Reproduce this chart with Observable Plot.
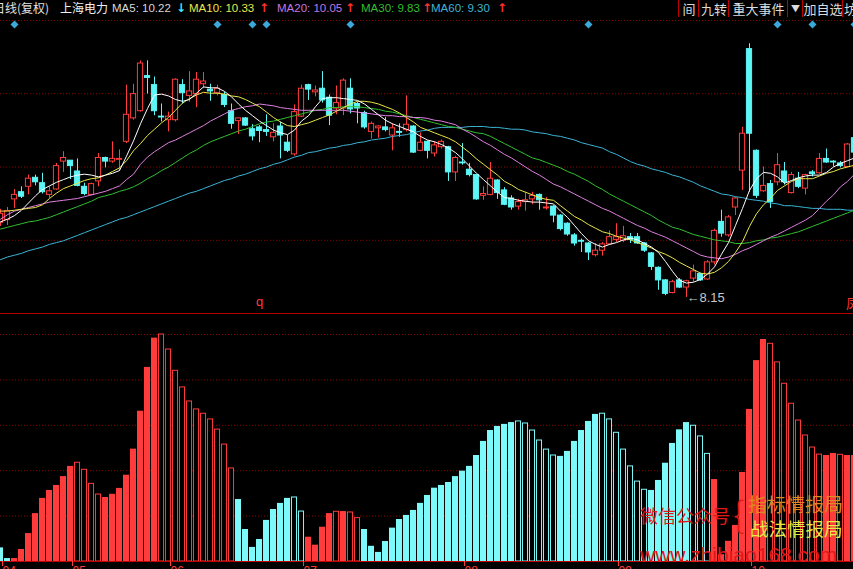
<!DOCTYPE html>
<html>
<head>
<meta charset="utf-8">
<script src="https://cdn.jsdelivr.net/npm/d3@7"></script>
<script src="https://cdn.jsdelivr.net/npm/@observablehq/plot@0.6"></script>
<style>
html, body { margin:0; padding:0; background:#000; }
#root { position:relative; width:853px; height:569px; overflow:hidden; background:#000; font-family:"Liberation Sans", Arial, "Noto Sans CJK SC", sans-serif; }
#main, #sub { position:absolute; left:0; }
#main { top:0; }
#sub { top:313px; }
.btn { position:absolute; top:0; height:17px; line-height:17px; font-size:13px; color:#dcdcdc; text-align:center; border-left:1px solid #c00000; font-family:"Noto Sans CJK SC", sans-serif; }
</style>
</head>
<body>
<div id="root">
  <div id="main"></div>
  <div id="sub"></div>
  <div id="header"></div>
  <div id="marks"></div>
</div>
<script>
// ---------------- data ----------------
const opens = [8.98,9.01,9.24,9.32,9.38,9.48,9.42,9.29,9.35,9.66,9.67,9.55,9.38,9.29,9.44,9.70,9.66,9.68,9.88,10.14,10.22,10.61,10.51,10.16,10.12,10.12,10.51,10.39,10.41,10.52,10.46,10.42,10.40,10.22,10.11,10.14,10.02,10.04,10.01,9.93,10.05,9.87,9.74,10.16,10.51,10.43,10.47,10.37,10.25,10.25,10.47,10.30,10.20,9.99,10.03,10.04,9.95,9.99,10.01,10.05,9.78,9.88,9.75,9.82,9.82,9.54,9.65,9.57,9.51,9.28,9.29,9.45,9.34,9.25,9.16,9.21,9.24,9.29,9.14,9.16,9.06,8.97,8.84,8.78,8.75,8.62,8.67,8.74,8.79,8.78,8.82,8.82,8.75,8.64,8.48,8.34,8.20,8.34,8.26,8.36,8.41,8.35,8.54,8.99,8.84,9.15,9.56,10.91,9.78,9.33,9.41,9.43,9.55,9.31,9.47,9.36,9.54,9.53,9.69,9.66,9.64,9.60,9.92];
const highs = [9.13,9.15,9.35,9.38,9.51,9.51,9.53,9.38,9.64,9.77,9.67,9.69,9.42,9.42,9.75,9.71,9.88,9.79,10.51,10.52,10.78,10.78,10.60,10.30,10.21,10.58,10.57,10.66,10.65,10.65,10.52,10.51,10.43,10.30,10.14,10.15,10.07,10.06,10.18,10.08,10.10,9.95,10.29,10.51,10.52,10.50,10.66,10.40,10.50,10.58,10.58,10.32,10.22,10.10,10.06,10.15,10.08,10.08,10.39,10.06,9.98,9.89,9.88,9.90,9.83,9.72,9.86,9.64,9.52,9.38,9.65,9.46,9.37,9.28,9.24,9.32,9.32,9.30,9.26,9.17,9.07,8.98,8.86,8.80,8.76,8.75,8.76,8.89,8.97,8.94,8.86,8.86,8.76,8.65,8.49,8.35,8.34,8.36,8.34,8.51,8.42,8.56,8.91,9.12,9.06,9.26,10.04,10.97,9.79,9.60,9.45,9.75,9.65,9.54,9.54,9.52,9.56,9.75,9.80,9.67,9.66,9.86,9.95];
const lows = [8.94,8.95,9.14,9.25,9.29,9.39,9.30,9.25,9.34,9.54,9.46,9.38,9.28,9.28,9.38,9.59,9.64,9.55,9.86,10.12,10.21,10.41,10.17,10.10,9.99,10.10,10.30,10.32,10.26,10.47,10.33,10.39,10.26,10.02,9.96,10.05,9.89,9.87,9.94,9.88,9.69,9.76,9.72,10.15,10.34,10.38,10.31,10.06,10.18,10.17,10.19,10.08,10.02,9.91,9.92,9.99,9.78,9.93,9.99,9.75,9.77,9.69,9.71,9.80,9.44,9.44,9.62,9.49,9.23,9.23,9.28,9.24,9.17,9.12,9.12,9.11,9.18,9.12,9.12,8.98,8.89,8.83,8.72,8.65,8.56,8.60,8.61,8.73,8.76,8.76,8.75,8.74,8.65,8.45,8.23,8.17,8.19,8.25,8.15,8.32,8.33,8.34,8.51,8.82,8.82,9.06,9.34,9.32,9.25,9.32,9.14,9.39,9.40,9.30,9.36,9.29,9.49,9.52,9.64,9.60,9.59,9.59,9.73];
const closes = [9.08,9.11,9.29,9.27,9.47,9.43,9.32,9.33,9.61,9.70,9.61,9.39,9.30,9.41,9.70,9.66,9.69,9.69,10.18,10.41,10.75,10.59,10.22,10.15,10.16,10.57,10.42,10.44,10.57,10.55,10.44,10.47,10.29,10.08,10.14,10.06,9.94,10.00,9.99,9.98,9.95,9.78,10.21,10.47,10.46,10.45,10.34,10.17,10.31,10.56,10.24,10.25,10.04,10.08,10.05,10.01,10.03,9.98,10.07,9.76,9.87,9.78,9.84,9.88,9.54,9.70,9.64,9.51,9.24,9.30,9.47,9.31,9.18,9.15,9.21,9.23,9.28,9.23,9.15,9.06,8.91,8.85,8.75,8.77,8.65,8.67,8.74,8.82,8.82,8.83,8.79,8.75,8.67,8.49,8.34,8.19,8.32,8.26,8.33,8.44,8.34,8.54,8.89,8.86,9.04,9.25,9.97,9.97,9.28,9.39,9.21,9.62,9.43,9.51,9.38,9.51,9.52,9.69,9.65,9.65,9.61,9.85,9.76];

const ma5 = [8.99,9.02,9.06,9.12,9.20,9.28,9.35,9.39,9.43,9.46,9.49,9.51,9.52,9.51,9.49,9.51,9.53,9.56,9.72,9.89,10.08,10.25,10.40,10.41,10.39,10.35,10.33,10.35,10.42,10.49,10.48,10.48,10.44,10.38,10.30,10.23,10.17,10.11,10.06,10.01,9.98,9.96,10.01,10.11,10.17,10.27,10.36,10.37,10.37,10.36,10.35,10.34,10.30,10.24,10.18,10.12,10.08,10.05,10.02,9.99,9.94,9.90,9.88,9.85,9.81,9.76,9.69,9.61,9.53,9.46,9.39,9.32,9.26,9.25,9.23,9.22,9.21,9.21,9.20,9.19,9.11,9.04,8.95,8.86,8.78,8.74,8.71,8.74,8.76,8.79,8.81,8.79,8.75,8.71,8.65,8.55,8.44,8.34,8.31,8.32,8.35,8.41,8.49,8.63,8.76,8.95,9.14,9.34,9.47,9.54,9.53,9.49,9.42,9.45,9.48,9.50,9.51,9.51,9.54,9.60,9.64,9.67,9.70];
const ma10 = [9.11,9.11,9.12,9.13,9.14,9.15,9.18,9.25,9.31,9.36,9.39,9.42,9.45,9.47,9.48,9.51,9.55,9.59,9.67,9.78,9.86,9.95,10.02,10.09,10.15,10.23,10.31,10.36,10.40,10.43,10.42,10.42,10.41,10.39,10.38,10.35,10.31,10.27,10.21,10.15,10.10,10.06,10.05,10.07,10.09,10.12,10.15,10.18,10.22,10.26,10.30,10.33,10.33,10.32,10.30,10.27,10.24,10.20,10.15,10.10,10.04,10.01,9.98,9.95,9.92,9.88,9.82,9.76,9.69,9.63,9.57,9.51,9.44,9.40,9.35,9.32,9.29,9.26,9.24,9.23,9.17,9.11,9.05,9.01,8.96,8.92,8.88,8.86,8.83,8.81,8.79,8.76,8.73,8.70,8.66,8.63,8.59,8.54,8.50,8.46,8.42,8.41,8.43,8.48,8.55,8.65,8.77,8.94,9.08,9.18,9.25,9.34,9.39,9.44,9.47,9.47,9.47,9.50,9.53,9.55,9.58,9.60,9.62];
const ma20 = [9.02,9.07,9.11,9.13,9.15,9.17,9.19,9.21,9.22,9.23,9.24,9.25,9.27,9.29,9.31,9.33,9.36,9.39,9.46,9.52,9.63,9.71,9.77,9.82,9.87,9.90,9.94,9.98,10.02,10.06,10.11,10.15,10.19,10.23,10.25,10.27,10.28,10.30,10.29,10.28,10.26,10.25,10.24,10.23,10.23,10.23,10.23,10.23,10.23,10.23,10.22,10.21,10.20,10.19,10.18,10.17,10.17,10.16,10.16,10.15,10.15,10.14,10.12,10.11,10.09,10.07,10.02,9.98,9.93,9.88,9.84,9.79,9.74,9.70,9.65,9.60,9.55,9.51,9.46,9.41,9.38,9.34,9.30,9.26,9.22,9.18,9.14,9.11,9.07,9.03,8.99,8.95,8.92,8.88,8.85,8.82,8.78,8.74,8.70,8.66,8.62,8.60,8.59,8.58,8.60,8.63,8.67,8.70,8.74,8.78,8.82,8.85,8.89,8.93,8.97,9.01,9.06,9.14,9.22,9.29,9.38,9.44,9.52];
const ma30 = [8.91,8.93,8.95,8.97,8.99,9.00,9.02,9.04,9.07,9.10,9.13,9.16,9.19,9.22,9.26,9.28,9.30,9.33,9.35,9.38,9.42,9.47,9.51,9.56,9.60,9.65,9.70,9.75,9.79,9.84,9.88,9.91,9.94,9.97,10.00,10.02,10.05,10.08,10.10,10.11,10.13,10.15,10.17,10.19,10.21,10.23,10.24,10.26,10.26,10.27,10.27,10.27,10.26,10.25,10.24,10.22,10.21,10.19,10.17,10.15,10.13,10.11,10.09,10.07,10.05,10.04,10.02,10.00,9.98,9.97,9.94,9.90,9.86,9.82,9.78,9.74,9.70,9.68,9.65,9.62,9.59,9.55,9.52,9.48,9.44,9.39,9.35,9.30,9.26,9.22,9.18,9.14,9.10,9.06,9.01,8.97,8.93,8.91,8.88,8.85,8.83,8.81,8.79,8.78,8.77,8.75,8.75,8.76,8.78,8.79,8.81,8.82,8.84,8.86,8.88,8.91,8.94,8.97,9.00,9.03,9.06,9.09,9.12];
const ma60 = [8.57,8.60,8.62,8.64,8.67,8.69,8.71,8.74,8.76,8.78,8.81,8.84,8.87,8.90,8.93,8.96,8.99,9.02,9.04,9.07,9.10,9.13,9.16,9.19,9.22,9.25,9.28,9.31,9.33,9.36,9.39,9.42,9.45,9.47,9.50,9.52,9.55,9.58,9.60,9.63,9.65,9.68,9.71,9.73,9.76,9.77,9.79,9.81,9.82,9.84,9.85,9.87,9.88,9.90,9.91,9.92,9.94,9.95,9.96,9.98,10.00,10.01,10.03,10.04,10.04,10.04,10.04,10.05,10.05,10.05,10.04,10.04,10.03,10.02,10.02,10.01,9.99,9.98,9.97,9.95,9.94,9.92,9.90,9.87,9.85,9.83,9.81,9.77,9.74,9.70,9.66,9.63,9.61,9.58,9.56,9.54,9.51,9.49,9.46,9.43,9.39,9.36,9.33,9.30,9.29,9.27,9.26,9.24,9.23,9.22,9.20,9.19,9.17,9.17,9.16,9.15,9.14,9.14,9.13,9.13,9.13,9.12,9.12];

const indicator = [6.0,1.3,1.3,5.3,12.3,21.1,27.8,31.3,33.5,37.4,41.9,43.5,40.4,34.2,29.5,28.2,29.6,32.2,38.0,49.5,66.2,85.5,98.4,100,93.4,84.0,76.7,70.5,67.0,65.1,62.6,58.1,51.5,41.0,27.3,14.1,6.2,9.7,18.1,22.9,25.6,27.8,28.2,22.0,10.7,7.2,15.1,21.1,21.9,22.0,21.6,19.1,14.1,6.7,4.0,8.8,14.7,18.5,20.3,22.5,25.6,29.1,32.3,33.5,34.8,37.4,39.8,41.9,46.7,52.9,57.7,59.5,60.4,61.2,61.7,60.8,57.7,53.3,49.3,46.7,46.3,48.5,52.9,57.7,61.7,64.8,65.1,62.6,56.7,49.3,41.9,35.2,31.6,31.3,35.7,43.3,52.0,58.0,61.2,59.8,55.1,47.4,36.1,3.0,8.9,15.9,39.2,67.0,88.5,97.8,95.9,87.7,78.3,69.5,62.1,55.5,50.2,47.1,46.7,47.6,47.0,46.7,46.7];
// r/c = red/cyan, f/h = filled/hollow
const indicatorStyle = ["cf","cf","rf","rf","rf","rf","rf","rf","rf","rf","rf","rh","rh","rh","rh","rf","rf","rf","rf","rf","rf","rf","rf","rh","rh","rh","rh","rh","rh","rh","rh","rh","rh","rh","cf","cf","cf","cf","cf","cf","cf","cf","ch","ch","rf","rf","rf","rf","rh","rf","rh","rh","cf","cf","cf","cf","cf","cf","cf","cf","cf","cf","cf","cf","cf","cf","cf","cf","cf","cf","cf","cf","cf","cf","ch","ch","ch","ch","ch","ch","cf","cf","cf","cf","cf","cf","ch","ch","ch","ch","ch","ch","ch","cf","cf","cf","cf","cf","cf","ch","ch","ch","rf","rf","rf","rf","rf","rf","rf","rf","rh","rh","rh","rh","rh","rh","rh","rh","rf","rf","rh","rf","rf"];

const monthStart = [0, 10, 24, 43, 66, 88, 107];
const monthLabels = ["04", "05", "06", "07", "08", "09", "10"];
const eventBars = [2, 31, 36, 38, 50, 84, 111, 116, 122];
const markerBar = 37;
const markerText = "q";

const stockTitle = ["日线(复权)", "上海电力"];
const maNames = ["MA5", "MA10", "MA20", "MA30", "MA60"];
const maLatest = ["10.22", "10.33", "10.05", "9.83", "9.30"];
const maTrend = ["down", "up", "up", "up", "up"];
const buttonLabels = ["间", "九转", "重大事件", "▼", "加自选", "坊"];
const watermark = ["微信公众号", "{", "指标情报局", "战法情报局", "www.zhibiao168.com"];

// ---------------- styles ----------------
const RED = "#ff3b3b", CYAN = "#5cf6f6", BAR_CYAN = "#7ef9f9";
const maColors = ["#ffffff", "#e8e84a", "#e080e0", "#30c030", "#3cb4d6"];
const hdColors = ["#d8d8d8", "#e8e84a", "#c477e0", "#2fbf2f", "#3cb4d6"];
const GRID = "#8c0000";

const candles = closes.map((c, i) => ({i, o: opens[i], h: highs[i], l: lows[i], c, up: c >= opens[i]}));
const priceDomain = [7.972, 11.228];
const xDomain = [0, 853 / 7];
const grid = [0.25, 0.5, 0.75].map(f => priceDomain[0] + (priceDomain[1] - priceDomain[0]) * f);
const lowest = candles.reduce((a, b) => (b.l < a.l ? b : a));
const diamond = {draw(ctx, size) { const r = Math.sqrt(size / 2); ctx.moveTo(0, -r); ctx.lineTo(r, 0); ctx.lineTo(0, r); ctx.lineTo(-r, 0); ctx.closePath(); }};
const maSeries = [ma60, ma30, ma20, ma10, ma5];
const maSeriesColors = [maColors[4], maColors[3], maColors[2], maColors[1], maColors[0]];

const main = Plot.plot({
  width: 853, height: 315, marginTop: 20, marginBottom: 2, marginLeft: 0, marginRight: 0,
  style: {background: "transparent", fontFamily: "Liberation Sans, Arial, sans-serif"},
  x: {type: "linear", domain: xDomain, axis: null},
  y: {domain: priceDomain, axis: null},
  color: {type: "identity"},
  marks: [
    Plot.ruleY([priceDomain[1]], {stroke: GRID, strokeDasharray: "1,2"}),
    Plot.ruleY(grid, {stroke: GRID, strokeDasharray: "1,2"}),
    Plot.ruleY([priceDomain[0]], {stroke: "#b00000"}),
    Plot.ruleX(candles, {x: "i", y1: "l", y2: "h", stroke: d => d.up ? RED : CYAN}),
    Plot.rect(candles, {x1: d => d.i - 0.37, x2: d => d.i + 0.37, y1: "o", y2: "c", fill: d => d.up ? "#000" : CYAN, stroke: d => d.up ? RED : CYAN}),
    ...maSeries.map((s, j) => Plot.lineY(s, {x: (d, i) => i, y: d => d, stroke: maSeriesColors[j], strokeWidth: 1})),
    Plot.dot(eventBars, {x: d => d, frameAnchor: "top", dy: 4, r: 3.2, symbol: diamond, fill: "#3aa8d8", stroke: "none"}),
    Plot.text([lowest], {x: "i", y: "l", text: d => "←" + d.l.toFixed(2), textAnchor: "start", dx: 0, fill: "#c8c8c8", fontSize: 13}),
    Plot.text([{i: markerBar, t: markerText}], {x: "i", text: "t", frameAnchor: "bottom", dy: -8, fill: RED, fontSize: 13})
  ]
});
document.getElementById("main").appendChild(main);

const bars = indicator.map((v, i) => ({i, v, s: indicatorStyle[i]}));
const barColor = s => s[0] === "r" ? RED : BAR_CYAN;
const sub = Plot.plot({
  width: 853, height: 275, marginTop: 21, marginBottom: 27, marginLeft: 0, marginRight: 0,
  style: {background: "transparent", fontFamily: "Liberation Sans, Arial, sans-serif"},
  x: {type: "linear", domain: xDomain, axis: null},
  y: {domain: [0, 100], axis: null},
  color: {type: "identity"},
  marks: [
    Plot.ruleY([20, 40, 60, 80, 100], {stroke: GRID, strokeDasharray: "1,2"}),
    Plot.rect(bars.filter(d => d.s[1] === "f"), {x1: d => d.i - 0.43, x2: d => d.i + 0.43, y1: 0, y2: "v", fill: d => barColor(d.s)}),
    Plot.rect(bars.filter(d => d.s[1] === "h"), {x1: d => d.i - 0.36, x2: d => d.i + 0.36, y1: 0, y2: "v", fill: "#000", stroke: d => barColor(d.s)}),
    Plot.ruleY([0], {stroke: "#c00000"}),
    Plot.axisX(monthStart, {anchor: "bottom", tickSize: 5, tickPadding: 0, tickFormat: d => monthLabels[monthStart.indexOf(d)], textAnchor: "start", dx: 2, color: RED, fontSize: 12})
  ]
});
document.getElementById("sub").appendChild(sub);

// ---------------- header ----------------
const header = document.getElementById("header");
function addSpan(parent, text, left, top, css) {
  const s = document.createElement("span");
  s.textContent = text;
  s.style.position = "absolute"; s.style.left = left + "px"; s.style.top = top + "px";
  Object.assign(s.style, css || {});
  parent.appendChild(s);
  return s;
}
const hdBase = {fontSize: "11.5px", lineHeight: "16px", whiteSpace: "nowrap"};
addSpan(header, stockTitle[0], -7, 0, {...hdBase, fontSize: "12px", color: "#e0e0e0", fontFamily: "Noto Sans CJK SC"});
addSpan(header, stockTitle[1], 60, 0, {...hdBase, fontSize: "12px", color: "#f0f0f0", fontFamily: "Noto Sans CJK SC"});
const maLefts = [112, 189, 277, 361, 431];
const arrowLefts = [176, 259, 345, 422, 497];
maNames.forEach((n, j) => {
  addSpan(header, n + ": " + maLatest[j], maLefts[j], 0, {...hdBase, color: hdColors[j]});
  addSpan(header, maTrend[j] === "up" ? "↑" : "↓", arrowLefts[j], 0, {fontSize: "12px", lineHeight: "16px", fontWeight: "bold", fontFamily: "DejaVu Sans", color: maTrend[j] === "up" ? "#ff3030" : "#40e8f0"});
});
const btnLefts = [678, 698, 728, 787, 802, 842];
const btnWidths = [20, 30, 59, 15, 40, 15];
buttonLabels.forEach((b, j) => {
  const s = addSpan(header, b, btnLefts[j], 0, {});
  s.className = "btn";
  s.style.width = btnWidths[j] + "px";
  if (b === "▼") { s.style.fontSize = "9px"; }
});

// ---------------- watermark & misc labels ----------------
const marks = document.getElementById("marks");
addSpan(marks, watermark[0], 640, 506, {fontFamily: "Noto Sans CJK SC", fontSize: "18px", lineHeight: "18px", color: "#e01818", whiteSpace: "nowrap"});
addSpan(marks, watermark[1], 733, 494, {fontFamily: "Noto Sans CJK SC", fontSize: "36px", lineHeight: "36px", fontWeight: "300", color: "#e01818"});
addSpan(marks, watermark[2], 748, 494, {fontFamily: "Noto Sans CJK SC", fontSize: "19px", lineHeight: "19px", color: "#dd8a22", whiteSpace: "nowrap"});
addSpan(marks, watermark[3], 750, 519, {fontFamily: "Noto Sans CJK SC", fontSize: "18.5px", lineHeight: "18.5px", color: "#e8e84a", whiteSpace: "nowrap"});
addSpan(marks, watermark[4], 640, 544, {fontFamily: "Liberation Sans", fontSize: "21px", lineHeight: "21px", color: "#e01818", whiteSpace: "nowrap"});
addSpan(marks, "凤", 846, 296, {fontFamily: "Noto Sans CJK SC", fontSize: "13px", lineHeight: "14px", color: "#ff3030"});
</script>
</body>
</html>
